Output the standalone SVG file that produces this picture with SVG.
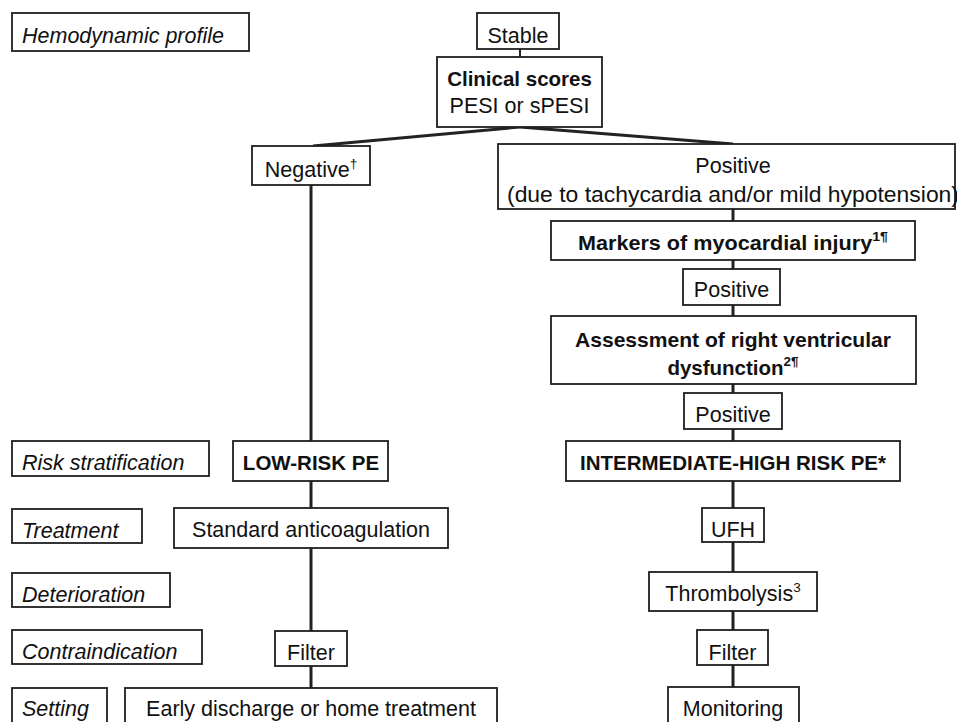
<svg xmlns="http://www.w3.org/2000/svg" width="957" height="722" viewBox="0 0 957 722">
<style>
.box{fill:#fff;stroke:#1e1e1e;stroke-width:1.8}
.t{font-family:"Liberation Sans",Arial,sans-serif;font-size:21.5px;fill:#111;text-anchor:middle}
.b{font-family:"Liberation Sans",Arial,sans-serif;font-size:20.5px;font-weight:bold;fill:#111;text-anchor:middle}
.l{font-family:"Liberation Sans",Arial,sans-serif;font-size:21.5px;font-style:italic;fill:#111}
.c{stroke:#222;stroke-width:3;fill:none}
.ct{stroke:#222;stroke-width:2;fill:none}
.sup{font-size:13.5px}
</style>
<rect width="957" height="722" fill="#fff"/>
<g id="connectors">
<line class="ct" x1="520" y1="49" x2="520" y2="57"/>
<line class="c" x1="520" y1="127" x2="313" y2="146"/>
<line class="c" x1="520" y1="127" x2="733" y2="144"/>
<line class="c" x1="311" y1="185" x2="311" y2="441"/>
<line class="c" x1="311" y1="481" x2="311" y2="508"/>
<line class="c" x1="311" y1="548" x2="311" y2="631"/>
<line class="c" x1="311" y1="666" x2="311" y2="688"/>
<line class="c" x1="733" y1="209" x2="733" y2="221"/>
<line class="c" x1="733" y1="260" x2="733" y2="269"/>
<line class="c" x1="733" y1="305" x2="733" y2="316"/>
<line class="c" x1="733" y1="384" x2="733" y2="393"/>
<line class="c" x1="733" y1="429" x2="733" y2="441"/>
<line class="c" x1="733" y1="481" x2="733" y2="508"/>
<line class="c" x1="733" y1="542" x2="733" y2="572"/>
<line class="c" x1="733" y1="611" x2="733" y2="630"/>
<line class="c" x1="733" y1="665" x2="733" y2="687"/>
</g>
<g id="label-hemodynamic"><rect class="box" x="12" y="13" width="237" height="38"/><text class="l" x="22" y="43">Hemodynamic profile</text></g>
<g id="label-risk"><rect class="box" x="12" y="441" width="197" height="35"/><text class="l" x="22" y="470">Risk stratification</text></g>
<g id="label-treatment"><rect class="box" x="12" y="509" width="130" height="34"/><text class="l" x="22" y="538">Treatment</text></g>
<g id="label-deterioration"><rect class="box" x="12" y="573" width="158" height="34"/><text class="l" x="22" y="602">Deterioration</text></g>
<g id="label-contraindication"><rect class="box" x="12" y="630" width="190" height="34"/><text class="l" x="22" y="659">Contraindication</text></g>
<g id="label-setting"><rect class="box" x="12" y="688" width="95" height="45"/><text class="l" x="22" y="716">Setting</text></g>
<g id="stable"><rect class="box" x="477" y="13" width="82" height="36"/><text class="t" x="518" y="43">Stable</text></g>
<g id="clinical-scores"><rect class="box" x="437" y="57" width="165" height="70"/><text class="b" x="519.5" y="86">Clinical scores</text><text class="t" x="519.5" y="113">PESI or sPESI</text></g>
<g id="negative"><rect class="box" x="252" y="146" width="118" height="39"/><text class="t" x="311" y="177">Negative<tspan class="sup" dy="-9">†</tspan></text></g>
<g id="positive-1"><rect class="box" x="498" y="144" width="457" height="65"/><text class="t" x="733" y="173">Positive</text><text class="t" x="733" y="202" textLength="452" lengthAdjust="spacingAndGlyphs">(due to tachycardia and/or mild hypotension)</text></g>
<g id="markers"><rect class="box" x="551" y="221" width="364" height="39"/><text class="b" x="733" y="250" textLength="310" lengthAdjust="spacingAndGlyphs">Markers of myocardial injury<tspan class="sup" dy="-9">1¶</tspan></text></g>
<g id="positive-2"><rect class="box" x="683" y="269" width="97" height="36"/><text class="t" x="731.5" y="297">Positive</text></g>
<g id="assessment"><rect class="box" x="551" y="316" width="365" height="68"/><text class="b" x="733" y="347" textLength="316" lengthAdjust="spacingAndGlyphs">Assessment of right ventricular</text><text class="b" x="733" y="375">dysfunction<tspan class="sup" dy="-9">2¶</tspan></text></g>
<g id="positive-3"><rect class="box" x="684" y="393" width="98" height="36"/><text class="t" x="733" y="422">Positive</text></g>
<g id="intermediate-high"><rect class="box" x="566" y="441" width="334" height="40"/><text class="b" x="733" y="470">INTERMEDIATE-HIGH RISK PE*</text></g>
<g id="low-risk"><rect class="box" x="233" y="441" width="155" height="40"/><text class="b" x="311" y="470">LOW-RISK PE</text></g>
<g id="standard-anticoagulation"><rect class="box" x="174" y="508" width="274" height="40"/><text class="t" x="311" y="537">Standard anticoagulation</text></g>
<g id="filter-left"><rect class="box" x="275" y="631" width="72" height="35"/><text class="t" x="311" y="660">Filter</text></g>
<g id="early-discharge"><rect class="box" x="125" y="688" width="372" height="45"/><text class="t" x="311" y="716">Early discharge or home treatment</text></g>
<g id="ufh"><rect class="box" x="702" y="508" width="62" height="34"/><text class="t" x="733" y="537">UFH</text></g>
<g id="thrombolysis"><rect class="box" x="649" y="572" width="168" height="39"/><text class="t" x="733" y="601">Thrombolysis<tspan class="sup" dy="-9">3</tspan></text></g>
<g id="filter-right"><rect class="box" x="697" y="630" width="71" height="35"/><text class="t" x="732.5" y="660">Filter</text></g>
<g id="monitoring"><rect class="box" x="668" y="687" width="131" height="46"/><text class="t" x="733" y="716">Monitoring</text></g>
</svg>
